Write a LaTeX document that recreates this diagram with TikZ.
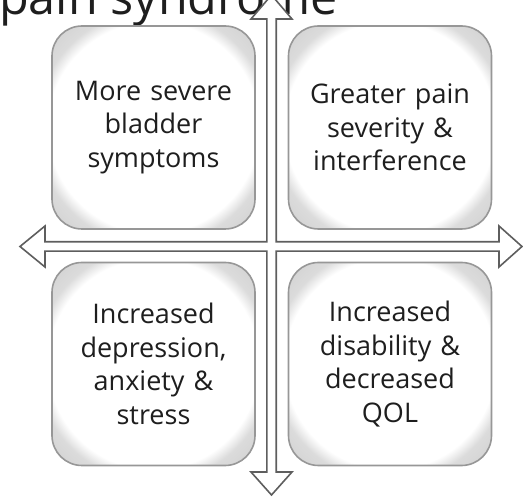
\documentclass[tikz,border=0pt]{standalone}
\usepackage{fontspec}
\setmainfont{Open Sans}
\usetikzlibrary{positioning}
\definecolor{BoxLine}{HTML}{979797}
\definecolor{CrossLine}{HTML}{5E5E5E}
\definecolor{TextDark}{HTML}{1E1E1E}
\pgfdeclareradialshading{boxglow}{\pgfpoint{0bp}{0bp}}{color(0bp)=(white); color(26bp)=(white); color(29bp)=(black!14); color(40bp)=(black!22); color(50bp)=(black!22)}

\begin{document}
\begin{tikzpicture}[x=1pt, y=-1pt, node distance=33.5pt,
                box/.style={rectangle, draw=BoxLine, line width=1.6pt, shading=boxglow, rounded corners=30pt, minimum width=203pt, minimum height=203pt, inner sep=0pt, outer sep=0pt, text width=190pt, align=center, text=TextDark, font=\fontsize{27}{33.5}\selectfont},
                cross/.style={draw=CrossLine, fill=white, line width=1.6pt, line join=miter}]
                \useasboundingbox (0,0) rectangle (523,497);
                \node[anchor=base west, inner sep=0pt, text=TextDark, font=\fontsize{48.5}{50}\selectfont] (title) at (-1,15) {pain syndrome};
                \node[box] (tl) at (153.5,127.5) {More severe\\bladder\\symptoms};
                \node[box, right=of tl] (tr) {Greater pain\\severity \&\\interference};
                \node[box, below=of tl] (bl) {Increased\\depression,\\anxiety \&\\stress};
                \node[box, right=of bl] (br) {Increased\\disability \&\\decreased\\QOL};
                
                % four-way arrow between the boxes
                \draw[cross] (271.5,-5) -- (292,19) -- (276.2,19) -- (276.2,241.8) -- (499,241.8) -- (499,226)
                    -- (522,246.5) -- (499,267) -- (499,251.2) -- (276.2,251.2) -- (276.2,472) -- (292,472)
                    -- (271.5,495) -- (251,472) -- (266.8,472) -- (266.8,251.2) -- (45,251.2) -- (45,267)
                    -- (20,246.5) -- (45,226) -- (45,241.8) -- (266.8,241.8) -- (266.8,19) -- (251,19) -- cycle;
            \end{tikzpicture}
\end{document}
